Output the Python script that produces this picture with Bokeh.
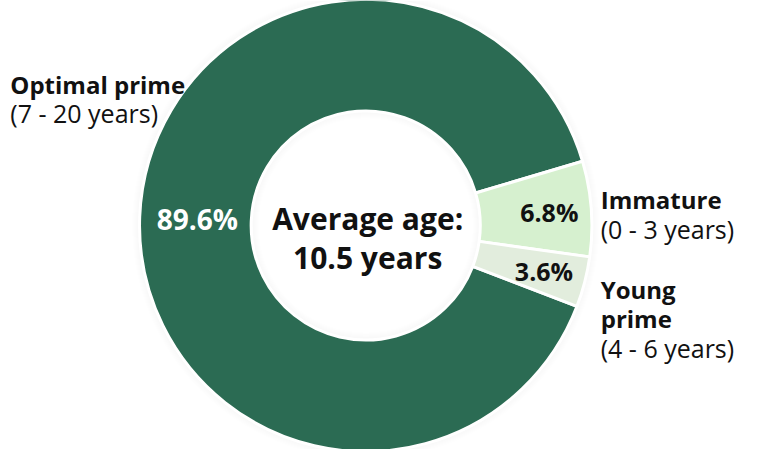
import numpy as np
from bokeh.plotting import figure
from bokeh.models import Range1d, ColumnDataSource
from bokeh.core.properties import value
from bokeh.embed import file_html
from bokeh.resources import INLINE

# ---- data ----
categories = ["Optimal prime", "Immature", "Young prime"]
age_ranges = ["(7 - 20 years)", "(0 - 3 years)", "(4 - 6 years)"]
shares = [89.6, 6.8, 3.6]
pct_labels = ["89.6%", "6.8%", "3.6%"]
colors = ["#2b6b53", "#d6f0cf", "#e2eddd"]
pct_text_colors = ["white", "#111111", "#111111"]
center_lines = ["Average age:", "10.5 years"]

# ---- geometry (data space = reference image pixels, y measured upward) ----
W, H = 751, 449
IMG_W, IMG_H = 767, 465
FONT = "Open Sans"


def Y(img_y):
    return IMG_H - img_y


CX, CY = 373, Y(233)
R_IN, R_OUT = 117, 231

p = figure(width=W, height=H, x_range=Range1d(0, IMG_W), y_range=Range1d(0, IMG_H),
           output_backend="svg", toolbar_location=None, min_border=0)
p.axis.visible = False
p.grid.visible = False
p.outline_line_color = None
p.background_fill_color = "white"
p.border_fill_color = "white"

# soft shadow rings
for k in range(1, 9):
    p.annulus(x=[CX], y=[CY], inner_radius=R_OUT - 1, outer_radius=R_OUT + k,
              fill_color="black", fill_alpha=0.005, line_color=None)
    p.annulus(x=[CX], y=[CY], inner_radius=R_IN - k, outer_radius=R_IN + 1,
              fill_color="black", fill_alpha=0.005, line_color=None)

# wedges: clockwise from the top edge of "Immature"
order = [1, 2, 0]
total = sum(shares)
a = np.deg2rad(16.5)
starts = [0.0] * 3
ends = [0.0] * 3
for i in order:
    span = shares[i] / total * 2 * np.pi
    ends[i] = a
    starts[i] = a - span
    a -= span

src = ColumnDataSource(dict(start=starts, end=ends, color=colors, cat=categories))
p.annular_wedge(x=CX, y=CY, inner_radius=R_IN, outer_radius=R_OUT,
                start_angle="start", end_angle="end", fill_color="color",
                line_color="white", line_width=3, source=src)

# percentage labels
lab_r = [172, 188, 188]
lab_size = ["28px", "25px", "25px"]
mids = [(s + e) / 2 for s, e in zip(starts, ends)]
lx = [CX + r * np.cos(m) for r, m in zip(lab_r, mids)]
ly = [CY + r * np.sin(m) for r, m in zip(lab_r, mids)]
psrc = ColumnDataSource(dict(x=lx, y=ly, t=pct_labels, c=pct_text_colors, s=lab_size))
p.text(x="x", y="y", text="t", text_color="c", text_font_size="s",
       text_font=value(FONT), text_font_style="bold",
       text_align="center", text_baseline="middle", source=psrc)

# center text
p.text(x=[CX + 2, CX + 2], y=[Y(226), Y(266)], text=center_lines,
       text_color="#111111", text_font=value(FONT), text_font_style="bold",
       text_font_size="30px", text_align="center", text_baseline="alphabetic")

# category labels
bold_x = [10, 613, 613, 613]
bold_y = [Y(87), Y(206), Y(299), Y(329)]
bold_txt = [categories[0], categories[1], "Young", "prime"]
p.text(x=bold_x, y=bold_y, text=bold_txt, text_color="#111111",
       text_font=value(FONT), text_font_style="bold", text_font_size="24px",
       text_align="left", text_baseline="alphabetic")

reg_x = [10, 613, 613]
reg_y = [Y(116), Y(237), Y(360)]
p.text(x=reg_x, y=reg_y, text=age_ranges, text_color="#111111",
       text_font=value(FONT), text_font_size="25px",
       text_align="left", text_baseline="alphabetic")

open("out.html", "w").write(file_html(p, INLINE))
